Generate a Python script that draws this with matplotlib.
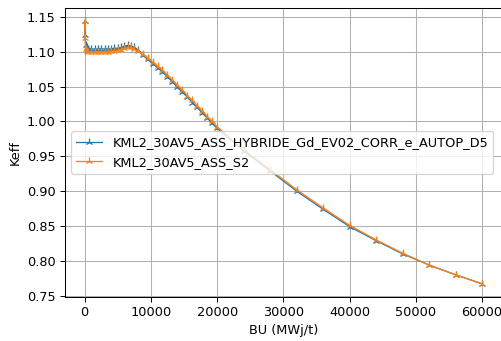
import matplotlib
matplotlib.use("Agg")
import matplotlib.pyplot as plt

# Burnup steps (MWj/t)
bu = [0, 50, 150, 300, 500, 1000, 1500, 2000, 2500, 3000, 3500, 4000, 4500,
      5000, 5500, 6000, 6500, 7000, 7500, 8000, 8750, 9500, 10250, 11000,
      11750, 12500, 13250, 14000, 14750, 15500, 16250, 17000, 17750, 18500,
      19250, 20000, 24000, 28000, 32000, 36000, 40000, 44000, 48000, 52000,
      56000, 60000]

# Keff, calcul HYBRIDE
keff_hyb = [1.144, 1.124, 1.110, 1.106, 1.104, 1.104, 1.104, 1.104, 1.104,
            1.104, 1.104, 1.104, 1.105, 1.105, 1.106, 1.108, 1.109, 1.108,
            1.106, 1.102, 1.095, 1.089, 1.083, 1.077, 1.071, 1.064, 1.057,
            1.049, 1.042, 1.035, 1.027, 1.020, 1.012, 1.005, 0.997, 0.990,
            0.958, 0.929, 0.900, 0.874, 0.849, 0.829, 0.810, 0.794, 0.780,
            0.767]

# Keff, calcul S2
keff_s2 = [1.144, 1.120, 1.104, 1.101, 1.100, 1.100, 1.100, 1.100, 1.100,
           1.100, 1.100, 1.101, 1.101, 1.102, 1.103, 1.105, 1.106, 1.106,
           1.104, 1.101, 1.096, 1.091, 1.085, 1.079, 1.073, 1.066, 1.059,
           1.052, 1.045, 1.037, 1.030, 1.022, 1.015, 1.007, 1.000, 0.992,
           0.960, 0.931, 0.902, 0.876, 0.851, 0.830, 0.811, 0.794, 0.780,
           0.767]

labels = ['KML2_30AV5_ASS_HYBRIDE_Gd_EV02_CORR_e_AUTOP_D5', 'KML2_30AV5_ASS_S2']

dpi = 93
fig = plt.figure(figsize=(502 / dpi, 341 / dpi), dpi=dpi)
ax = fig.add_axes([0.129, 0.129, 0.871, 0.848])

ax.plot(bu, keff_hyb, marker='2', linewidth=1, label=labels[0])
ax.plot(bu, keff_s2, marker='2', linewidth=1, label=labels[1])

ax.set_xlabel('BU (MWj/t)')
ax.set_ylabel('Keff')
ax.legend(loc='center left')
ax.grid(True)

fig.savefig('out.png', dpi=dpi)
